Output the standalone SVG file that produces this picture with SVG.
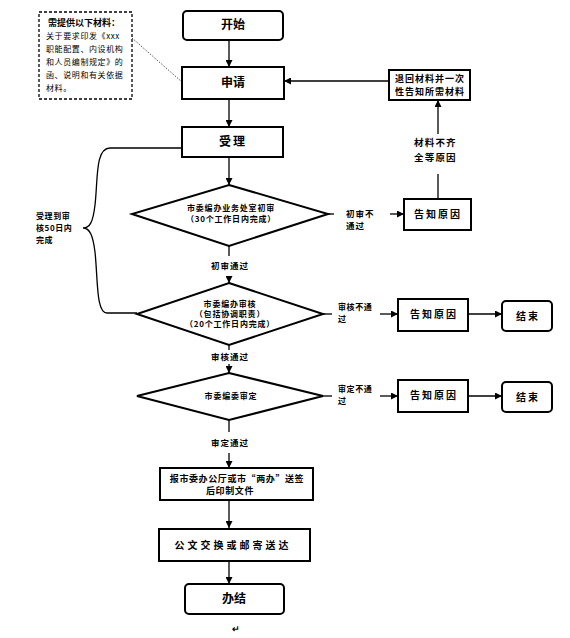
<svg xmlns="http://www.w3.org/2000/svg" width="570" height="638" viewBox="0 0 570 638">
<defs>
<marker id="ah" viewBox="0 0 10 10" refX="10" refY="5" markerWidth="7" markerHeight="7" markerUnits="userSpaceOnUse" orient="auto"><path d="M0,0 L10,5 L0,10 z" fill="#000"/></marker>
<style>
.box{fill:#fff;stroke:#000;stroke-width:2}
.dia{fill:#fff;stroke:#000;stroke-width:2}
.ln{fill:none;stroke:#000;stroke-width:1.3}
.ar{fill:none;stroke:#000;stroke-width:1.3;marker-end:url(#ah)}
text{font-family:"Noto Sans CJK SC","Noto Sans",sans-serif;font-weight:bold;fill:#000}
.t12{font-size:12px;text-anchor:middle}
.t10{font-size:10px;text-anchor:middle}
.t8{font-size:8px;text-anchor:middle;letter-spacing:0.8px}
.l8{font-size:8px;letter-spacing:0.6px}
</style>
</defs>
<rect width="570" height="638" fill="#fff"/>
<g id="connectors">
<path class="ar" d="M229,40 V67"/>
<path class="ar" d="M229,99 V127"/>
<path class="ar" d="M229,157 V185"/>
<path class="ln" d="M229,246 V256"/>
<path class="ar" d="M229,276 V283"/>
<path class="ln" d="M229,345 V350"/>
<path class="ar" d="M229,364 V373"/>
<path class="ln" d="M229,420 V432"/>
<path class="ar" d="M229,453 V468"/>
<path class="ar" d="M229,500 V528"/>
<path class="ar" d="M229,561 V584"/>
<path class="ar" d="M389,81 H284"/>
<path class="ln" d="M328,214 H334"/>
<path class="ar" d="M390,214 H404"/>
<path class="ln" d="M438,199 V174"/>
<path class="ar" d="M438,134 V100"/>
<path class="ln" d="M323,314 H332"/>
<path class="ar" d="M380,314 H398"/>
<path class="ar" d="M468,314 H502"/>
<path class="ln" d="M323,396 H332"/>
<path class="ar" d="M380,396 H398"/>
<path class="ar" d="M468,396 H502"/>
<path class="ln" d="M182,148 H110 C95,148 98,180 95,205 C93,222 90,228 83,228 C90,228 93,236 95,252 C98,280 96,313 107,313 H137"/>
<path d="M132,38 L182,82" fill="none" stroke="#555" stroke-width="1" stroke-dasharray="1.5,1.5"/>
</g>
<g id="note">
<rect x="39" y="12" width="93" height="87" fill="#fff" stroke="#000" stroke-width="1.3" stroke-dasharray="3,2"/>
<text x="48" y="26" font-size="9">需提供以下材料：</text>
<text class="l8" x="46" y="39" style="font-weight:normal">关于要求印发《xxx</text>
<text class="l8" x="46" y="52" style="font-weight:normal">职能配置、内设机构</text>
<text class="l8" x="46" y="65" style="font-weight:normal">和人员编制规定》的</text>
<text class="l8" x="46" y="78" style="font-weight:normal">函、说明和有关依据</text>
<text class="l8" x="46" y="91" style="font-weight:normal">材料。</text>
</g>
<g id="start">
<rect class="box" x="183" y="11" width="100" height="29" rx="4"/>
<text class="t12" x="233" y="29">开始</text>
</g>
<g id="apply">
<rect class="box" x="182" y="67" width="102" height="32"/>
<text class="t12" x="233" y="87">申请</text>
</g>
<g id="accept">
<rect class="box" x="182" y="127" width="101" height="30"/>
<text class="t12" x="233" y="146" letter-spacing="2">受理</text>
</g>
<g id="review1">
<polygon class="dia" points="229,185 328,214 229,246 132,214"/>
<text class="t8" x="231" y="211">市委编办业务处室初审</text>
<text class="t8" x="231" y="222">（30个工作日内完成）</text>
</g>
<g id="review2">
<polygon class="dia" points="229,283 323,314 229,345 137,314"/>
<text class="t8" x="230" y="307">市委编办审核</text>
<text class="t8" x="230" y="317">（包括协调职责）</text>
<text class="t8" x="230" y="327">（20个工作日内完成）</text>
</g>
<g id="review3">
<polygon class="dia" points="229,373 323,396 229,420 137,396"/>
<text class="t8" x="231" y="399">市委编委审定</text>
</g>
<g id="print">
<rect class="box" x="160" y="468" width="153" height="32"/>
<text x="237" y="482" font-size="9" text-anchor="middle" letter-spacing="0.6">报市委办公厅或市“两办”送签</text>
<text x="230" y="494" font-size="9" text-anchor="middle" letter-spacing="0.6">后印制文件</text>
</g>
<g id="deliver">
<rect class="box" x="159" y="529" width="151" height="32"/>
<text class="t10" x="233" y="549" letter-spacing="3">公文交换或邮寄送达</text>
</g>
<g id="finish">
<rect class="box" x="185" y="584" width="99" height="30" rx="4"/>
<text class="t12" x="234" y="603">办结</text>
</g>
<g id="return">
<rect class="box" x="389" y="70" width="81" height="30"/>
<text x="430" y="82" font-size="9" text-anchor="middle" letter-spacing="1">退回材料并一次</text>
<text x="430" y="95" font-size="9" text-anchor="middle" letter-spacing="1">性告知所需材料</text>
</g>
<g id="notify1">
<rect class="box" x="404" y="199" width="67" height="31"/>
<text class="t10" x="438" y="218" letter-spacing="2">告知原因</text>
</g>
<g id="notify2">
<rect class="box" x="398" y="299" width="70" height="32"/>
<text class="t10" x="434" y="318" letter-spacing="2">告知原因</text>
</g>
<g id="end2">
<rect class="box" x="502" y="301" width="50" height="30" rx="4"/>
<text class="t10" x="528" y="320" letter-spacing="2">结束</text>
</g>
<g id="notify3">
<rect class="box" x="398" y="380" width="70" height="32"/>
<text class="t10" x="434" y="399" letter-spacing="2">告知原因</text>
</g>
<g id="end3">
<rect class="box" x="502" y="382" width="50" height="30" rx="4"/>
<text class="t10" x="528" y="401" letter-spacing="2">结束</text>
</g>
<g id="labels">
<text x="230" y="269" font-size="8.5" text-anchor="middle" letter-spacing="1">初审通过</text>
<text x="230" y="360" font-size="8.5" text-anchor="middle" letter-spacing="1">审核通过</text>
<text x="230" y="446" font-size="8.5" text-anchor="middle" letter-spacing="1">审定通过</text>
<text x="346" y="217" font-size="8.5" letter-spacing="1">初审不</text>
<text x="346" y="229" font-size="8.5" letter-spacing="1">通过</text>
<text class="l8" x="338" y="310">审核不通</text>
<text class="l8" x="338" y="322">过</text>
<text class="l8" x="338" y="392">审定不通</text>
<text class="l8" x="338" y="404">过</text>
<text x="414" y="146" font-size="9.5" letter-spacing="1.2">材料不齐</text>
<text x="414" y="161" font-size="9.5" letter-spacing="1.2">全等原因</text>
<text class="l8" x="36" y="219">受理到审</text>
<text class="l8" x="36" y="231">核50日内</text>
<text class="l8" x="36" y="243">完成</text>
<text x="236" y="632" font-size="9" font-weight="normal" fill="#777" text-anchor="middle">↵</text>
</g>
</svg>
